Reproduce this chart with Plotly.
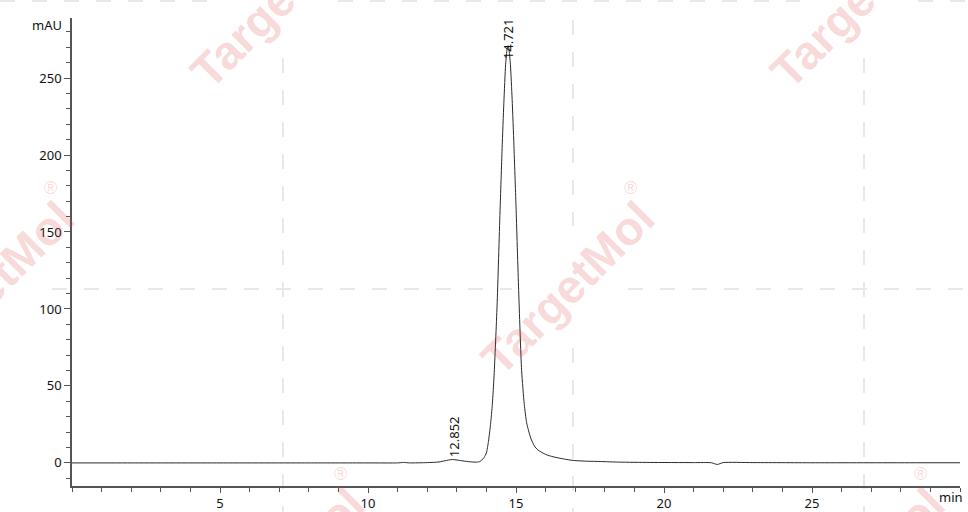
import plotly.graph_objects as go

# ---- data ----
time_min = [0.0, 2.0, 5.0, 8.0, 10.0, 11.0, 11.2, 11.4, 12.0, 12.4, 12.6, 12.85, 13.1, 13.4,
            13.67, 13.78, 13.84, 13.92, 14.0, 14.07, 14.14, 14.2, 14.26, 14.36, 14.46, 14.53,
            14.59, 14.65, 14.7, 14.73, 14.76, 14.81, 14.87, 14.93, 15.0, 15.09, 15.19, 15.28,
            15.36, 15.5, 15.62, 15.74, 16.0, 16.25, 16.6, 16.93, 17.4, 17.84, 18.5, 19.5,
            21.0, 21.6, 21.8, 22.0, 23.0, 25.0, 28.0, 30.0]
absorbance_mau = [0.0, 0.0, 0.0, 0.0, 0.0, 0.0, 0.3, 0.0, 0.2, 0.6, 1.4, 2.2, 1.6, 0.8,
                  0.5, 0.9, 1.8, 3.5, 6.5, 14.0, 25.0, 38.0, 57.0, 102.0, 163.0, 204.0,
                  234.0, 259.0, 269.0, 271.0, 269.0, 259.0, 236.0, 206.0, 167.0, 112.0, 60.0, 38.0,
                  26.0, 16.0, 11.0, 8.4, 5.5, 4.0, 2.6, 1.6, 1.1, 0.9, 0.5, 0.3,
                  0.2, 0.1, -1.0, 0.2, 0.2, 0.1, 0.1, 0.1]
peak_times = [12.852, 14.721]
peak_labels = ["12.852", "14.721"]
peak_label_base = [5.0, 263.7]
y_ticks = [0, 50, 100, 150, 200, 250]
x_ticks = [5, 10, 15, 20, 25]

W, H = 968, 512
ML, MR, MT, MB = 72, 8, 18, 26
PW, PH = W - ML - MR, H - MT - MB


def px(x):
    return (x - ML) / PW


def py(y):
    return (H - MB - y) / PH


fig = go.Figure()
fig.add_trace(go.Scatter(
    x=time_min, y=absorbance_mau, mode="lines",
    line=dict(color="#2a2a2a", width=1, shape="spline", smoothing=0.6),
    hoverinfo="skip", showlegend=False))

font = "Noto Sans, DejaVu Sans, sans-serif"
annotations = []
for t, lab, b in zip(peak_times, peak_labels, peak_label_base):
    annotations.append(dict(x=t, y=b, xref="x", yref="y", text=lab, textangle=-90,
                            showarrow=False, xanchor="center", yanchor="bottom",
                            xshift=1, yshift=-4, font=dict(family=font, size=13, color="#111111")))

annotations.append(dict(x=px(64), y=py(25), xref="paper", yref="paper", text="mAU",
                        showarrow=False, xanchor="right", yanchor="middle",
                        font=dict(family=font, size=13, color="#111111")))
annotations.append(dict(x=px(965), y=py(497), xref="paper", yref="paper", text="min",
                        showarrow=False, xanchor="right", yanchor="middle",
                        font=dict(family=font, size=13, color="#111111")))

# watermark (TargetMol), tiled
wm_color = "rgba(220,60,60,0.21)"
word_centers = [(277, 2), (857, 2), (567, 288), (-13, 288), (1147, 288), (277, 574), (857, 574)]
for cx, cy in word_centers:
    annotations.append(dict(x=px(cx), y=py(cy), xref="paper", yref="paper", text="<b>TargetMol</b>",
                            showarrow=False, textangle=-45, xanchor="center", yanchor="middle",
                            font=dict(family="Liberation Sans, Arial, sans-serif", size=47, color=wm_color)))
    annotations.append(dict(x=px(cx + 63), y=py(cy - 100), xref="paper", yref="paper", text="®",
                            showarrow=False, xanchor="center", yanchor="middle",
                            font=dict(family="Liberation Sans, Arial, sans-serif", size=18, color=wm_color)))

shapes = []
dash_line = dict(color="#e8e8e8", width=2, dash="15px,17px")
segments = [
    (283, 58, 283, 512), (573, 20, 573, 226), (573, 348, 573, 512), (864, 58, 864, 512),
    (52, 289, 512, 289), (628, 289, 968, 289),
    (0, 1, 222, 1), (338, 1, 800, 1), (918, 1, 968, 1),
]
for x0, y0, x1, y1 in segments:
    shapes.append(dict(type="line", xref="paper", yref="paper", x0=px(x0), y0=py(y0),
                       x1=px(x1), y1=py(y1), line=dash_line, layer="below"))

axis_common = dict(showline=True, linecolor="#555555", linewidth=1.5, ticks="outside",
                   tickcolor="#555555", tickwidth=1, showgrid=False, zeroline=False,
                   automargin=False,
                   tickfont=dict(family=font, size=13, color="#111111"))

fig.update_layout(
    width=W, height=H, autosize=False, margin=dict(l=ML, r=MR, t=MT, b=MB),
    paper_bgcolor="white", plot_bgcolor="rgba(0,0,0,0)",
    xaxis=dict(range=[0, 30], tickvals=x_ticks, ticklen=5,
               minor=dict(dtick=1, tick0=0, ticks="outside", ticklen=4, tickcolor="#555555"),
               **axis_common),
    yaxis=dict(range=[-15, 289], tickvals=y_ticks, ticklen=6,
               minor=dict(dtick=10, tick0=0, ticks="outside", ticklen=4, tickcolor="#555555"),
               **axis_common),
    annotations=annotations, shapes=shapes, showlegend=False,
)

fig.write_html("out.html",
               config={"displayModeBar": False, "responsive": False},
               post_script="document.body.style.margin='0';document.body.style.overflow='hidden';")
